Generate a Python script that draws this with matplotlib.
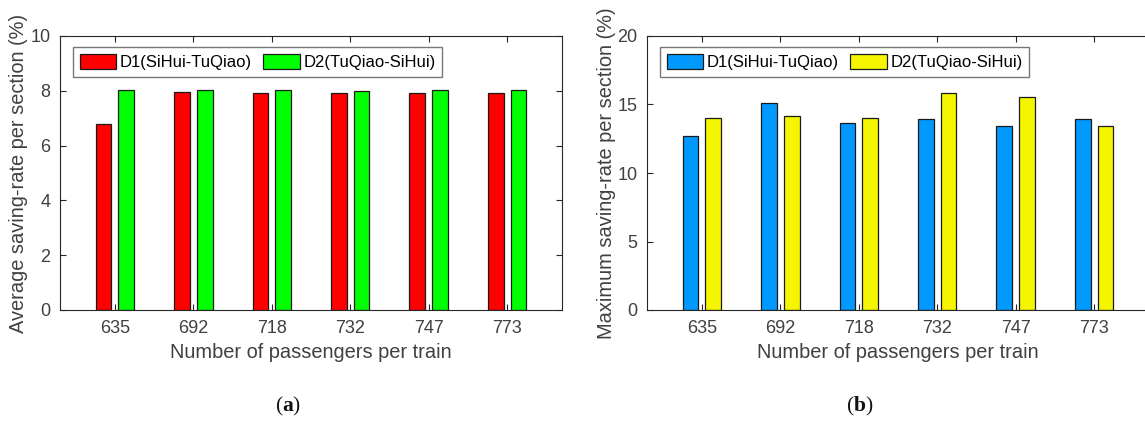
import matplotlib
matplotlib.use("Agg")
import matplotlib.pyplot as plt
import numpy as np

categories = ['635', '692', '718', '732', '747', '773']
series_names = ['D1(SiHui-TuQiao)', 'D2(TuQiao-SiHui)']
avg_d1 = [6.80, 7.95, 7.93, 7.93, 7.93, 7.93]
avg_d2 = [8.02, 8.03, 8.03, 8.00, 8.04, 8.04]
max_d1 = [12.68, 15.10, 13.68, 13.95, 13.41, 13.93]
max_d2 = [14.03, 14.15, 14.03, 15.81, 15.54, 13.41]

plt.rcParams['font.family'] = ['Liberation Sans', 'DejaVu Sans']
plt.rcParams['mathtext.fontset'] = 'custom'
plt.rcParams['mathtext.bf'] = 'Liberation Serif:bold'
plt.rcParams['mathtext.rm'] = 'Liberation Serif'

W, H = 1145, 424
fig = plt.figure(figsize=(W / 100, H / 100), dpi=100)

TXT = '#404040'
SPINE = '#262626'


def panel(left_px, d1, d2, colors, ymax, yticks, ylabel, caption, cap_x,
          right_ticks=True):
    ax = fig.add_axes([left_px / W, (H - 310) / H, 502 / W, 274 / H])
    x = np.arange(1, len(categories) + 1)
    ax.bar(x - 0.145, d1, width=0.2, color=colors[0], edgecolor='#1a1a1a',
           linewidth=0.9, label=series_names[0], zorder=2)
    ax.bar(x + 0.145, d2, width=0.2, color=colors[1], edgecolor='#1a1a1a',
           linewidth=0.9, label=series_names[1], zorder=2)
    ax.set_xlim(0.3, len(categories) + 0.7)
    ax.set_ylim(0, ymax)
    ax.set_xticks(x)
    ax.set_xticklabels(categories)
    ax.set_yticks(yticks)
    ax.tick_params(direction='in', top=True, right=right_ticks, length=4.5,
                   width=0.8, color=SPINE, labelsize=13, labelcolor=TXT, pad=7)
    for s in ax.spines.values():
        s.set_color(SPINE)
        s.set_linewidth(0.8)
    ax.set_ylabel(ylabel, fontsize=14.4, color=TXT, va='center')
    ax.yaxis.set_label_coords(-41 / 502, 0.5)
    ax.set_xlabel('Number of passengers per train', fontsize=14.4, color=TXT,
                  va='center')
    ax.xaxis.set_label_coords(0.5, -42 / 274)
    leg = ax.legend(loc='upper left', bbox_to_anchor=(13 / 502, 1 - 11 / 274),
                    ncol=2, fontsize=12, frameon=True, fancybox=False,
                    borderaxespad=0, handlelength=2.2, handleheight=1.0,
                    handletextpad=0.2, columnspacing=0.7, borderpad=0.4)
    leg.get_frame().set_edgecolor('#555555')
    leg.get_frame().set_linewidth(1.0)
    fig.text(cap_x / W, 1 - 406 / H, caption, ha='center', va='center',
             fontsize=15.5, family='Liberation Serif', color='#111111')
    return ax


panel(60, avg_d1, avg_d2, ['#FF0000', '#00FF00'], 10, [0, 2, 4, 6, 8, 10],
      'Average saving-rate per section (%)', r'($\mathbf{a}$)', 288)
panel(647, max_d1, max_d2, ['#0099FF', '#F5F500'], 20, [0, 5, 10, 15, 20],
      'Maximum saving-rate per section (%)', r'($\mathbf{b}$)', 860,
      right_ticks=False)

fig.savefig('out.png', dpi=100)
